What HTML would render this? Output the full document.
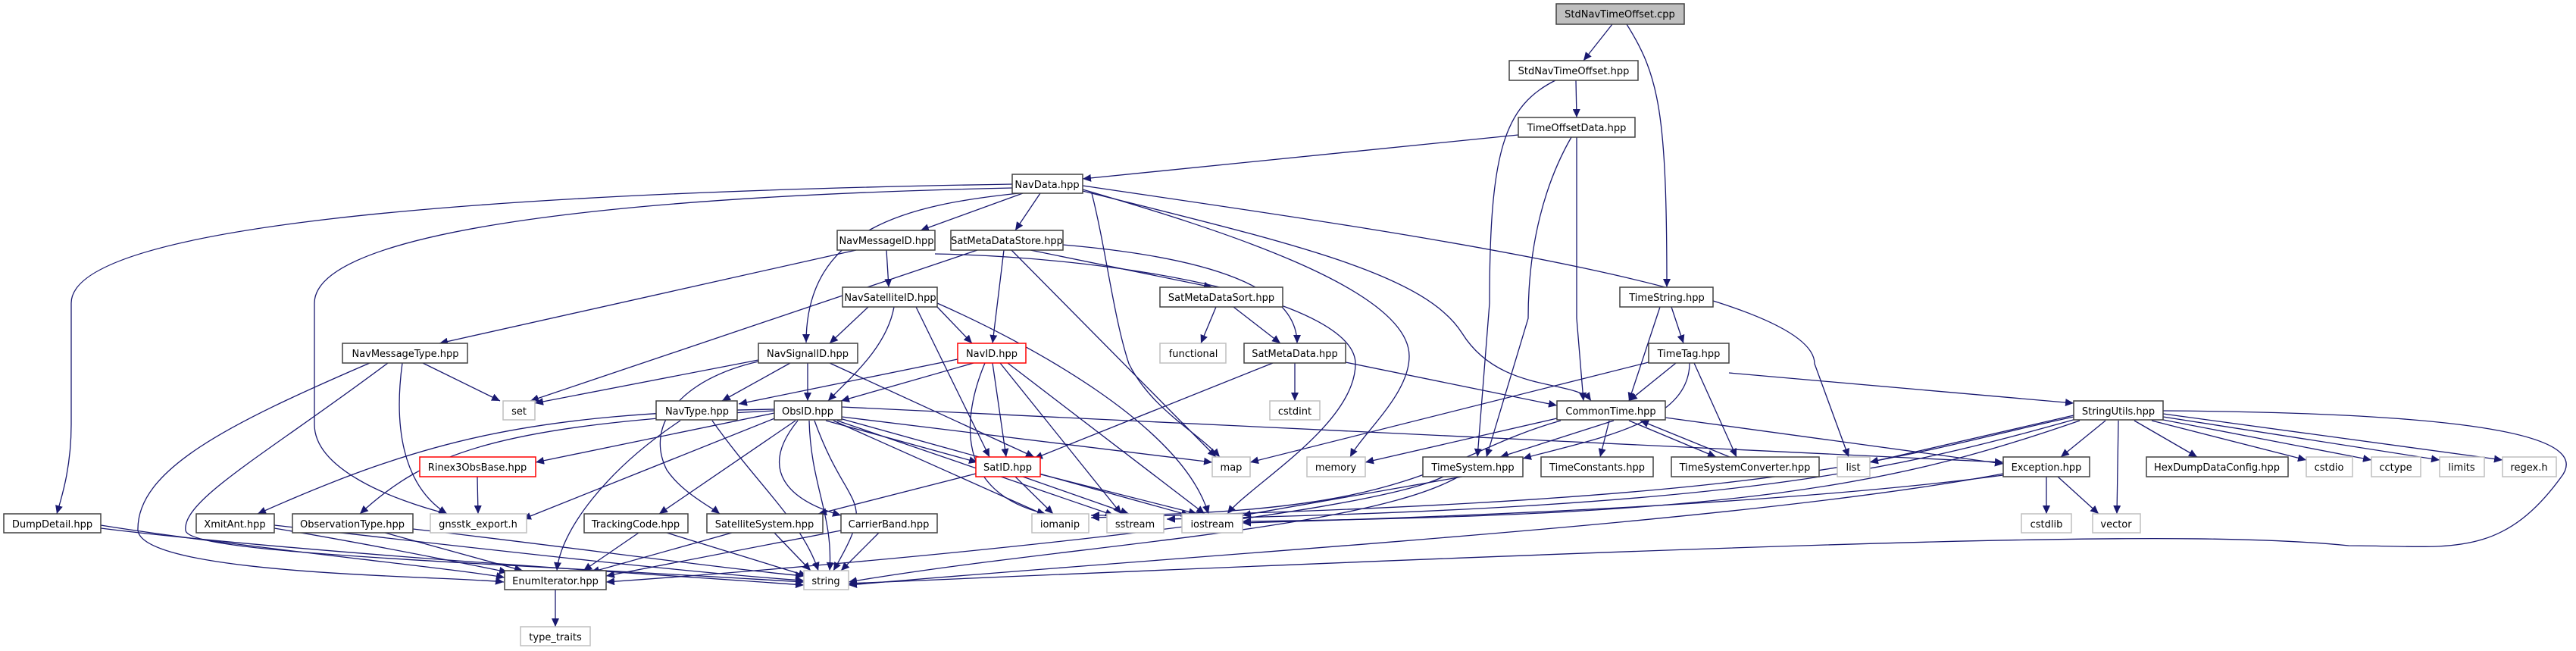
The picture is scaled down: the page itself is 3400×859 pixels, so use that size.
<!DOCTYPE html>
<html><head><meta charset="utf-8"><style>
html,body{margin:0;padding:0;background:#fff}
svg{display:block}
text{font-family:"DejaVu Sans","Liberation Sans",sans-serif;font-size:13px;fill:#000;text-anchor:middle}
.e{fill:none;stroke:#191970;stroke-width:1.3;marker-end:url(#a)}
.n{fill:#fff;stroke:#404040;stroke-width:1.5}
.s{fill:#fff;stroke:#bfbfbf;stroke-width:1.5}
.r{fill:#fff;stroke:#ff0000;stroke-width:1.5}
</style></head><body>
<svg width="3400" height="859" viewBox="0 0 3400 859" xmlns="http://www.w3.org/2000/svg">
<defs><marker id="a" markerUnits="userSpaceOnUse" markerWidth="12" markerHeight="10" refX="11" refY="5" orient="auto"><path d="M0,0 L11,5 L0,10 z" fill="#191970"/></marker></defs>
<g>
<path class="e" d="M2128,32 L2090,80"/>
<path class="e" d="M2147,32 C2190,100 2200,150 2200,379"/>
<path class="e" d="M2080,106 L2081,155"/>
<path class="e" d="M2053,106 C1985,140 1966,200 1966,400 L1950,603"/>
<path class="e" d="M2004,178 L1429,236"/>
<path class="e" d="M2074,181 C2040,240 2017,320 2017,420 L1962,603"/>
<path class="e" d="M2081,181 L2081,420 L2090,529"/>
<path class="e" d="M1350,255 L1215,304"/>
<path class="e" d="M1373,255 L1340,304"/>
<path class="e" d="M1336,243 C600,255 94,300 94,400 L94,560 C94,620 80,660 75,678"/>
<path class="e" d="M1336,248 C700,262 415,320 415,400 L415,560 C415,620 520,660 590,678"/>
<path class="e" d="M1345,255 C1200,270 1064,300 1064,452"/>
<path class="e" d="M1441,255 C1460,330 1470,420 1490,480 C1520,540 1580,570 1610,603"/>
<path class="e" d="M1429,250 C1600,300 1860,380 1860,470 C1860,520 1800,570 1782,603"/>
<path class="e" d="M1429,252 C1700,320 1880,360 1930,440 C1980,520 2080,500 2100,529"/>
<path class="e" d="M1429,245 C1800,300 2395,380 2395,480 L2440,603"/>
<path class="e" d="M1130,330 L580,453"/>
<path class="e" d="M1170,330 L1173,379"/>
<path class="e" d="M1234,335 C1500,340 1789,400 1789,480 C1789,560 1650,640 1620,678"/>
<path class="e" d="M1290,330 L700,529"/>
<path class="e" d="M1325,330 L1310,453"/>
<path class="e" d="M1335,330 L1605,603"/>
<path class="e" d="M1360,330 L1600,379"/>
<path class="e" d="M1403,323 C1600,340 1712,380 1712,453"/>
<path class="e" d="M1146,405 L1095,453"/>
<path class="e" d="M1180,405 C1170,460 1120,500 1093,529"/>
<path class="e" d="M1209,405 L1306,603"/>
<path class="e" d="M1237,405 L1283,453"/>
<path class="e" d="M1237,400 C1350,450 1560,560 1595,678"/>
<path class="e" d="M1605,405 L1585,453"/>
<path class="e" d="M1628,405 L1690,453"/>
<path class="e" d="M2191,405 L2150,529"/>
<path class="e" d="M2206,405 L2222,453"/>
<path class="e" d="M558,479 L660,529"/>
<path class="e" d="M531,479 C520,560 530,640 590,678"/>
<path class="e" d="M488,479 C300,560 180,620 182,700 C190,760 600,760 665,768"/>
<path class="e" d="M512,479 C350,600 240,660 245,700 C250,730 600,740 1061,768"/>
<path class="e" d="M1001,475 L706,532"/>
<path class="e" d="M1043,479 L953,529"/>
<path class="e" d="M1066,479 L1066,529"/>
<path class="e" d="M1001,477 C900,500 850,560 880,620 C900,650 940,670 950,678"/>
<path class="e" d="M1095,479 L1365,603"/>
<path class="e" d="M1264,474 L975,533"/>
<path class="e" d="M1285,479 L1110,529"/>
<path class="e" d="M1310,479 L1328,603"/>
<path class="e" d="M1300,479 C1270,550 1260,650 1380,678"/>
<path class="e" d="M1320,479 L1480,678"/>
<path class="e" d="M1330,479 L1590,678"/>
<path class="e" d="M1022,545 L707,610"/>
<path class="e" d="M1030,549 L690,685"/>
<path class="e" d="M1022,540 C700,545 560,580 340,678"/>
<path class="e" d="M1022,542 C650,560 560,600 475,678"/>
<path class="e" d="M1050,555 L870,678"/>
<path class="e" d="M1053,555 C1000,620 1040,660 1110,680"/>
<path class="e" d="M1090,555 L1290,610"/>
<path class="e" d="M1111,550 L1600,610"/>
<path class="e" d="M1111,537 L2644,610"/>
<path class="e" d="M1100,555 L1380,680"/>
<path class="e" d="M1105,555 L1470,680"/>
<path class="e" d="M1108,552 L1570,680"/>
<path class="e" d="M1068,555 C1070,640 1100,680 1095,753"/>
<path class="e" d="M1075,555 C1120,680 1160,650 1100,753"/>
<path class="e" d="M898,555 C800,620 740,700 735,753"/>
<path class="e" d="M940,555 C1000,640 1060,690 1080,753"/>
<path class="e" d="M1776,478 L2055,535"/>
<path class="e" d="M1709,479 L1709,529"/>
<path class="e" d="M1680,479 L1365,605"/>
<path class="e" d="M2212,479 L2150,529"/>
<path class="e" d="M2176,478 L1650,610"/>
<path class="e" d="M2230,479 C2230,560 2100,580 2010,605"/>
<path class="e" d="M2236,479 L2292,603"/>
<path class="e" d="M2282,492 L2737,532"/>
<path class="e" d="M2055,552 L1802,610"/>
<path class="e" d="M2130,555 L1980,603"/>
<path class="e" d="M2124,555 L2112,603"/>
<path class="e" d="M2150,555 L2265,603"/>
<path class="e" d="M2283,603 L2165,555"/>
<path class="e" d="M2198,551 L2644,612"/>
<path class="e" d="M2060,555 C1900,600 1880,680 1440,680"/>
<path class="e" d="M1930,629 L1640,680"/>
<path class="e" d="M1925,629 C1800,700 1400,720 1120,768"/>
<path class="e" d="M1905,629 C1800,680 1200,740 800,768"/>
<path class="e" d="M1288,625 L1080,678"/>
<path class="e" d="M1340,629 L1390,678"/>
<path class="e" d="M1350,629 L1490,678"/>
<path class="e" d="M1370,625 L1580,678"/>
<path class="e" d="M2737,548 L2468,610"/>
<path class="e" d="M2779,555 L2720,603"/>
<path class="e" d="M2796,555 L2794,678"/>
<path class="e" d="M2817,555 L2900,603"/>
<path class="e" d="M2840,555 L3044,607"/>
<path class="e" d="M2850,553 L3130,607"/>
<path class="e" d="M2855,550 L3220,607"/>
<path class="e" d="M2855,546 L3303,607"/>
<path class="e" d="M2737,550 C2500,600 2400,660 1440,683"/>
<path class="e" d="M2740,553 C2500,620 2300,670 1540,685"/>
<path class="e" d="M2745,555 C2500,640 2300,680 1640,688"/>
<path class="e" d="M2855,542 C3300,545 3420,580 3380,630 C3300,740 3230,720 3100,720 C2900,700 2500,710 1120,770"/>
<path class="e" d="M2701,629 L2701,678"/>
<path class="e" d="M2716,629 L2770,678"/>
<path class="e" d="M2644,627 C2400,660 2000,680 1640,690"/>
<path class="e" d="M2644,625 C2300,690 1600,730 1120,772"/>
<path class="e" d="M133,693 C300,720 600,750 666,762"/>
<path class="e" d="M133,697 C400,730 900,760 1061,772"/>
<path class="e" d="M362,697 C500,720 620,745 670,755"/>
<path class="e" d="M362,693 C600,720 900,755 1061,766"/>
<path class="e" d="M508,703 L690,753"/>
<path class="e" d="M545,698 C700,715 950,750 1061,760"/>
<path class="e" d="M630,629 L631,678"/>
<path class="e" d="M843,703 L770,753"/>
<path class="e" d="M880,703 L1065,760"/>
<path class="e" d="M966,703 L780,755"/>
<path class="e" d="M1022,703 L1070,753"/>
<path class="e" d="M1110,700 L800,760"/>
<path class="e" d="M1160,703 L1110,753"/>
<path class="e" d="M733,778 L733,827"/>
</g>
<g>
<rect class="n" x="2054" y="5" width="169" height="27" style="fill:#bfbfbf"/><text x="2138" y="23">StdNavTimeOffset.cpp</text>
<rect class="n" x="1992" y="80" width="170" height="26"/><text x="2077" y="98">StdNavTimeOffset.hpp</text>
<rect class="n" x="2004" y="155" width="154" height="26"/><text x="2081" y="173">TimeOffsetData.hpp</text>
<rect class="n" x="1336" y="230" width="93" height="25"/><text x="1382" y="248">NavData.hpp</text>
<rect class="n" x="1105" y="304" width="129" height="26"/><text x="1170" y="322">NavMessageID.hpp</text>
<rect class="n" x="1255" y="304" width="148" height="26"/><text x="1329" y="322">SatMetaDataStore.hpp</text>
<rect class="n" x="1112" y="379" width="125" height="26"/><text x="1175" y="397">NavSatelliteID.hpp</text>
<rect class="n" x="1531" y="379" width="162" height="26"/><text x="1612" y="397">SatMetaDataSort.hpp</text>
<rect class="n" x="2138" y="379" width="123" height="26"/><text x="2200" y="397">TimeString.hpp</text>
<rect class="n" x="452" y="453" width="165" height="26"/><text x="535" y="471">NavMessageType.hpp</text>
<rect class="n" x="1001" y="453" width="131" height="26"/><text x="1066" y="471">NavSignalID.hpp</text>
<rect class="r" x="1264" y="453" width="90" height="26"/><text x="1309" y="471">NavID.hpp</text>
<rect class="s" x="1531" y="453" width="87" height="26"/><text x="1575" y="471">functional</text>
<rect class="n" x="1642" y="453" width="134" height="26"/><text x="1709" y="471">SatMetaData.hpp</text>
<rect class="n" x="2176" y="453" width="106" height="26"/><text x="2229" y="471">TimeTag.hpp</text>
<rect class="s" x="664" y="529" width="42" height="25"/><text x="685" y="547">set</text>
<rect class="n" x="866" y="529" width="107" height="25"/><text x="920" y="547">NavType.hpp</text>
<rect class="n" x="1022" y="529" width="89" height="25"/><text x="1066" y="547">ObsID.hpp</text>
<rect class="s" x="1676" y="529" width="66" height="25"/><text x="1709" y="547">cstdint</text>
<rect class="n" x="2055" y="529" width="143" height="25"/><text x="2126" y="547">CommonTime.hpp</text>
<rect class="n" x="2737" y="529" width="118" height="25"/><text x="2796" y="547">StringUtils.hpp</text>
<rect class="r" x="554" y="603" width="153" height="26"/><text x="630" y="621">Rinex3ObsBase.hpp</text>
<rect class="r" x="1288" y="603" width="85" height="26"/><text x="1330" y="621">SatID.hpp</text>
<rect class="s" x="1600" y="603" width="50" height="26"/><text x="1625" y="621">map</text>
<rect class="s" x="1725" y="603" width="77" height="26"/><text x="1763" y="621">memory</text>
<rect class="n" x="1878" y="603" width="132" height="26"/><text x="1944" y="621">TimeSystem.hpp</text>
<rect class="n" x="2034" y="603" width="148" height="26"/><text x="2108" y="621">TimeConstants.hpp</text>
<rect class="n" x="2206" y="603" width="195" height="26"/><text x="2303" y="621">TimeSystemConverter.hpp</text>
<rect class="s" x="2425" y="603" width="43" height="26"/><text x="2446" y="621">list</text>
<rect class="n" x="2644" y="603" width="114" height="26"/><text x="2701" y="621">Exception.hpp</text>
<rect class="n" x="2833" y="603" width="187" height="26"/><text x="2926" y="621">HexDumpDataConfig.hpp</text>
<rect class="s" x="3044" y="603" width="61" height="26"/><text x="3074" y="621">cstdio</text>
<rect class="s" x="3130" y="603" width="65" height="26"/><text x="3162" y="621">cctype</text>
<rect class="s" x="3220" y="603" width="59" height="26"/><text x="3249" y="621">limits</text>
<rect class="s" x="3303" y="603" width="71" height="26"/><text x="3338" y="621">regex.h</text>
<rect class="n" x="5" y="678" width="128" height="25"/><text x="69" y="696">DumpDetail.hpp</text>
<rect class="n" x="259" y="678" width="103" height="25"/><text x="310" y="696">XmitAnt.hpp</text>
<rect class="n" x="386" y="678" width="159" height="25"/><text x="465" y="696">ObservationType.hpp</text>
<rect class="s" x="568" y="678" width="127" height="25"/><text x="631" y="696">gnsstk_export.h</text>
<rect class="n" x="771" y="678" width="137" height="25"/><text x="839" y="696">TrackingCode.hpp</text>
<rect class="n" x="933" y="678" width="153" height="25"/><text x="1009" y="696">SatelliteSystem.hpp</text>
<rect class="n" x="1110" y="678" width="127" height="25"/><text x="1173" y="696">CarrierBand.hpp</text>
<rect class="s" x="1362" y="678" width="75" height="25"/><text x="1399" y="696">iomanip</text>
<rect class="s" x="1461" y="678" width="75" height="25"/><text x="1498" y="696">sstream</text>
<rect class="s" x="1560" y="678" width="80" height="25"/><text x="1600" y="696">iostream</text>
<rect class="s" x="2668" y="678" width="66" height="25"/><text x="2701" y="696">cstdlib</text>
<rect class="s" x="2762" y="678" width="63" height="25"/><text x="2793" y="696">vector</text>
<rect class="n" x="666" y="753" width="134" height="25"/><text x="733" y="771">EnumIterator.hpp</text>
<rect class="s" x="1061" y="753" width="59" height="25"/><text x="1090" y="771">string</text>
<rect class="s" x="687" y="827" width="92" height="25"/><text x="733" y="845">type_traits</text>
</g>
</svg>
</body></html>
